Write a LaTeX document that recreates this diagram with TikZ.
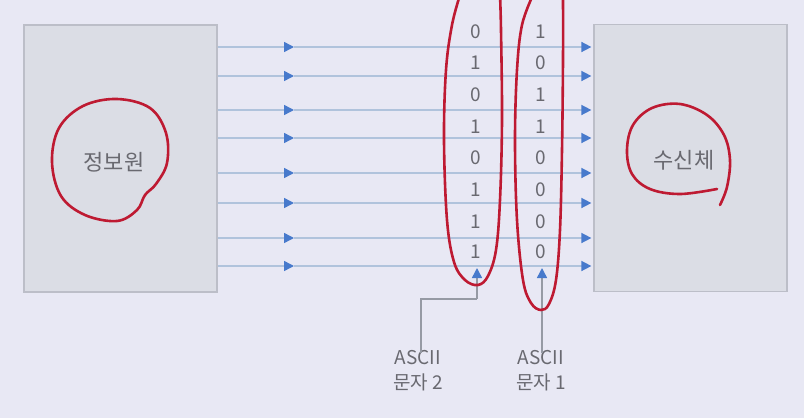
\documentclass[tikz,border=0pt]{standalone}
\usepackage{fontspec}
\setmainfont{Noto Sans CJK KR}
\usetikzlibrary{arrows.meta}
\definecolor{bgc}{RGB}{232,232,244}
\definecolor{boxfill}{RGB}{219,221,229}
\definecolor{boxline}{RGB}{188,190,200}
\definecolor{wirec}{RGB}{176,195,220}
\definecolor{tipc}{RGB}{72,122,204}
\definecolor{txtc}{RGB}{105,105,112}
\definecolor{leadc}{RGB}{150,154,164}
\definecolor{penred}{RGB}{190,26,50}
\tikzset{
  unitbox/.style={draw=boxline, line width=1.2pt, fill=boxfill, minimum width=193pt, minimum height=267pt, inner sep=0pt},
  boxtext/.style={text=txtc, font=\fontsize{22}{26}\selectfont},
  bit/.style={text=txtc, font=\fontsize{19}{22}\selectfont, inner sep=0pt},
  wire/.style={draw=wirec, line width=1.5pt, -{Triangle[length=10pt,width=10pt,color=tipc]}},
  leader/.style={draw=leadc, line width=1.5pt},
  leadtip/.style={-{Triangle[length=10pt,width=10pt,color=tipc]}},
  caption/.style={text=txtc, font=\fontsize{19}{25}\selectfont, align=center, inner sep=0pt},
  pen/.style={draw=penred, line width=2.6pt, line cap=round, line join=round}
}
\begin{document}
\begin{tikzpicture}[x=1pt,y=-1pt]
\useasboundingbox (0,0) rectangle (804,418);
\fill[bgc] (0,0) rectangle (804,418);
% boxes
\node[unitbox] (src) at (120.5,158.5) {};
\node[unitbox] (dst) at (690.5,158) {};
\node[boxtext] (srct) at (114,162) {정보원};
\node[boxtext] (dstt) at (684,160) {수신체};
% wires
\foreach \i/\y in {1/47,2/76,3/110,4/138,5/173,6/203,7/238,8/266}{
  \coordinate (a\i) at (src.east |- 0,\y);
  \coordinate (m\i) at (294,\y);
  \coordinate (b\i) at ([xshift=-2pt]dst.west |- 0,\y);
  \draw[wire] (a\i) -- (m\i);
  \draw[wire] (m\i) -- (b\i);
}
% bits
\foreach \i/\y/\p/\q in {1/32/0/1,2/63/1/0,3/95/0/1,4/127/1/1,5/158/0/0,6/190/1/0,7/222/1/0,8/252/1/0}{
  \node[bit] (p\i) at (476,\y) {\p};
  \node[bit] (q\i) at (541,\y) {\q};
}
% captions and leaders
\node[caption] (lab2) at (418,371) {ASCII\\문자 2};
\node[caption] (lab1) at (541,371) {ASCII\\문자 1};
\coordinate (tip2) at (477,268);
\coordinate (bend2) at (477,299);
\coordinate (tip1) at (542,268);
\draw[leader] ([yshift=-3pt]lab2.north -| 421,0) |- (bend2);
\draw[leader,leadtip] (bend2) -- (tip2);
\draw[leader,leadtip] ([yshift=-3pt]lab1.north -| tip1) -- (tip1);
% hand drawn marks
\draw[pen] plot[smooth cycle, tension=0.6] coordinates {(117,99) (150,108) (166,133) (167,163) (156,184) (145,195) (137,210) (117,221) (85,215) (61,196) (52,162) (59,128) (83,106)};
\draw[pen] plot[smooth, tension=0.6] coordinates {(720,205) (727,187) (730,160) (724,135) (707,115) (680,104) (652,108) (633,125) (627,150) (632,174) (650,189) (680,194) (717,189)};
\draw[pen] plot[smooth, tension=0.6] coordinates {(500,-5) (501,30) (502,120) (500,200) (496,250) (488,276) (478,285) (465,280) (454,262) (447,220) (444,140) (446,70) (452,25) (460,-5)};
\draw[pen] plot[smooth, tension=0.6] coordinates {(563,-5) (563,60) (562,150) (560,230) (556,280) (549,304) (541,310) (531,303) (523,280) (517,220) (515,140) (517,70) (522,25) (533,-5)};
\end{tikzpicture}
\end{document}
